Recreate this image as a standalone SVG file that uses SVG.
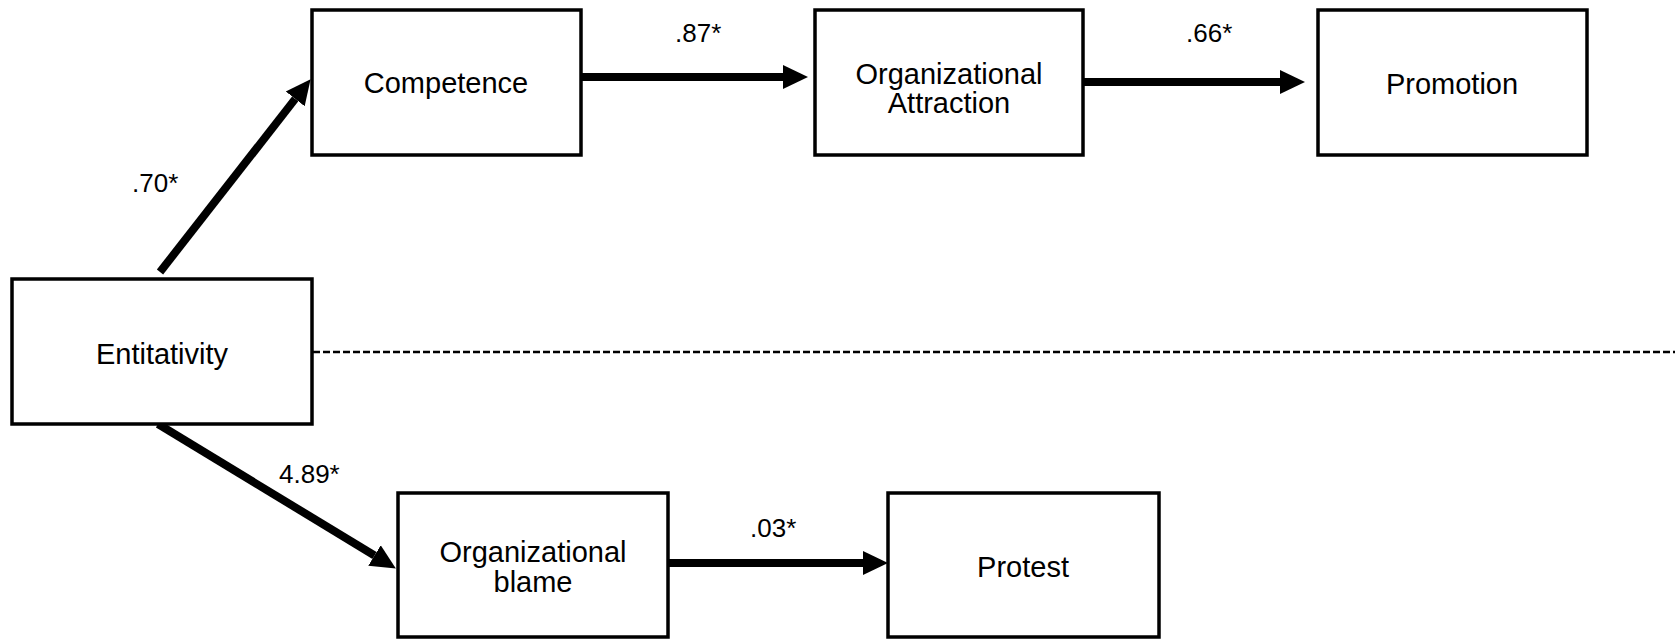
<svg xmlns="http://www.w3.org/2000/svg" width="1675" height="639" viewBox="0 0 1675 639">
<style>
.box{fill:#fff;stroke:#000;stroke-width:3.5}
.t{font-family:"Liberation Sans",Arial,sans-serif;font-size:29px;fill:#000;text-anchor:middle}
.lbl{font-family:"Liberation Sans",Arial,sans-serif;font-size:26px;fill:#000}
.arr{stroke:#000;stroke-width:8;fill:none;marker-end:url(#ah)}
.dash{stroke:#000;stroke-width:2.4;stroke-dasharray:7 3;fill:none}
</style>
<defs>
<marker id="ah" markerUnits="userSpaceOnUse" markerWidth="26" markerHeight="26" refX="0" refY="12" orient="auto" viewBox="0 0 26 24">
<path d="M0,0 L25,12 L0,24 Z" fill="#000"/>
</marker>
</defs>
<rect width="1675" height="639" fill="#fff"/>
<g id="connectors">
<line class="arr" x1="160" y1="272" x2="295.2" y2="98.9"/>
<line class="arr" x1="581" y1="77" x2="783" y2="77"/>
<line class="arr" x1="1083" y1="82" x2="1280" y2="82"/>
<line class="arr" x1="158" y1="424" x2="374.5" y2="555.5"/>
<line class="arr" x1="668" y1="563" x2="863" y2="563"/>
<line class="dash" x1="313" y1="352" x2="1675" y2="352"/>
<text class="lbl" x="132" y="192">.70*</text>
<text class="lbl" x="675" y="42">.87*</text>
<text class="lbl" x="1186" y="42">.66*</text>
<text class="lbl" x="279" y="483">4.89*</text>
<text class="lbl" x="750" y="537">.03*</text>
</g>
<g id="entitativity">
<rect class="box" x="12" y="279" width="300" height="145"/>
<text class="t" x="162" y="364">Entitativity</text>
</g>
<g id="competence">
<rect class="box" x="312" y="10" width="269" height="145"/>
<text class="t" x="446" y="93">Competence</text>
</g>
<g id="org-attraction">
<rect class="box" x="815" y="10" width="268" height="145"/>
<text class="t" x="949" y="84">Organizational</text>
<text class="t" x="949" y="113">Attraction</text>
</g>
<g id="promotion">
<rect class="box" x="1318" y="10" width="269" height="145"/>
<text class="t" x="1452" y="94">Promotion</text>
</g>
<g id="org-blame">
<rect class="box" x="398" y="493" width="270" height="144"/>
<text class="t" x="533" y="562">Organizational</text>
<text class="t" x="533" y="592">blame</text>
</g>
<g id="protest">
<rect class="box" x="888" y="493" width="271" height="144"/>
<text class="t" x="1023" y="577">Protest</text>
</g>
</svg>
